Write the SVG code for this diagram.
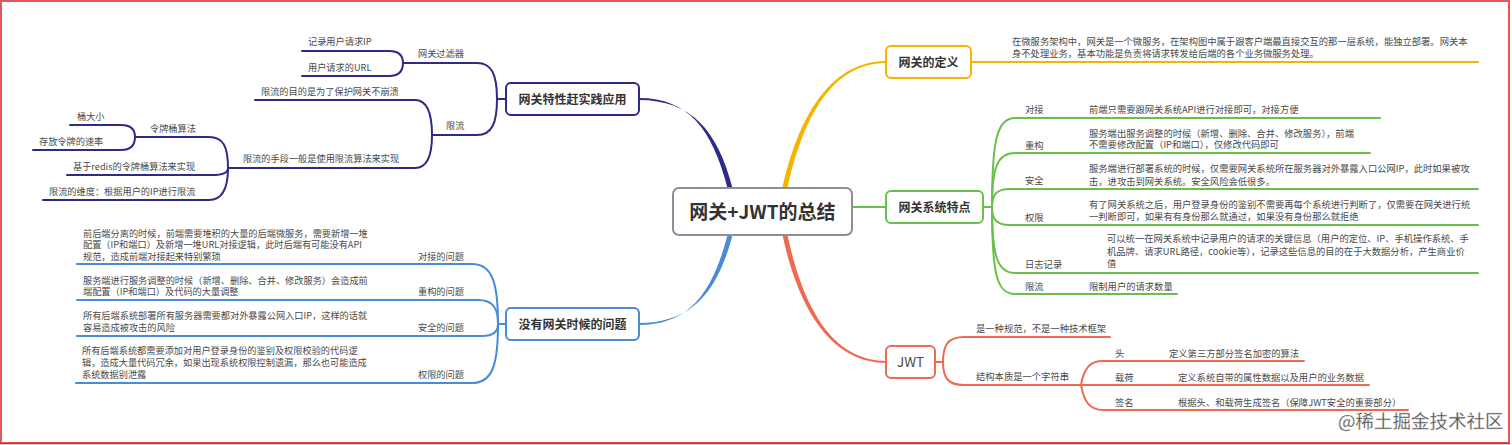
<svg xmlns="http://www.w3.org/2000/svg" width="1512" height="445" viewBox="0 0 1512 445">
<style>
text{font-family:"Noto Sans CJK SC","Microsoft YaHei",sans-serif;fill:#4a4a4a}
.r{font-size:9.3px}
.l{font-size:9.2px}
.b1{font-size:12px;font-weight:bold;fill:#333}
.root{font-size:19px;font-weight:bold;fill:#333}
.box{fill:#fff;stroke-width:2}
.ln{fill:none;stroke-width:2;stroke-linecap:round}
.pu{stroke:#2e2a85}.bl{stroke:#4a8bd6}.ye{stroke:#f5b400}.gr{stroke:#6abf4b}.co{stroke:#ee6a52}
</style>
<rect x="1" y="1" width="1508" height="442" fill="#fff" stroke="#e05a5a" stroke-width="2"/>
<line x1="0" y1="443.5" x2="1510" y2="443.5" stroke="#e82828" stroke-width="1.5"/>

<g id="connectors">
  <path d="M727.5 188 C712.5 130 689 98 639 98 L639 100 C691 100 717.5 130 732.5 188 Z" fill="#2e2a85"/>
  <path d="M727.5 235 C712.5 293 689 325 639 325 L639 323 C691 323 717.5 293 732.5 235 Z" fill="#4a8bd6"/>
  <path d="M782.5 188 C797.5 120 829 61 886 61 L886 63 C831 63 802.5 120 787.5 188 Z" fill="#f5b400"/>
  <path d="M782.5 235 C797.5 305 829 363 887 363 L887 361 C831 361 802.5 305 787.5 235 Z" fill="#ee6a52"/>
  <path class="ln gr" d="M852 207 L886 207" stroke-width="2.5"/>
  <!-- purple -->
  <path class="ln pu" d="M506 99 L497 99"/>
  <path class="ln pu" d="M497 99 C497 75 492 63 477 63 L403 63"/>
  <path class="ln pu" d="M497 99 C497 123 492 135 477 135 L432 135"/>
  <path class="ln pu" d="M403 63 C403 55 399 51 389 51 L302 51"/>
  <path class="ln pu" d="M403 63 C403 71 399 76 389 76 L302 76"/>
  <path class="ln pu" d="M432 135 C432 112 427 100 415 100 L255 100"/>
  <path class="ln pu" d="M432 135 C432 156 427 168 415 168 L228 168"/>
  <path class="ln pu" d="M228 168 C228 146 223 137 209 137 L135 137"/>
  <path class="ln pu" d="M228 168 C228 172 224 175 212 175 L67 175"/>
  <path class="ln pu" d="M228 168 C228 188 223 200 209 200 L43 200"/>
  <path class="ln pu" d="M135 137 C135 129 131 125 121 125 L70 125"/>
  <path class="ln pu" d="M135 137 C135 145 131 150 121 150 L33 150"/>
  <!-- blue -->
  <path class="ln bl" d="M506 324 L498 324"/>
  <path class="ln bl" d="M498 324 C498 282 492 264 472 264 L77 264"/>
  <path class="ln bl" d="M498 324 C498 308 493 300 478 300 L77 300"/>
  <path class="ln bl" d="M498 324 C498 331 494 336 482 336 L77 336"/>
  <path class="ln bl" d="M498 324 C498 366 492 383 472 383 L76 383"/>
  <!-- yellow -->
  <path class="ln ye" d="M971 62 L1478 62"/>
  <!-- green -->
  <path class="ln gr" d="M983 207 L992 207"/>
  <path class="ln gr" d="M992 207 C992 140 997 118 1015 118 L1380 118"/>
  <path class="ln gr" d="M992 207 C992 168 997 153 1015 153 L1370 153"/>
  <path class="ln gr" d="M992 207 C992 195 996 189 1010 189 L1478 189"/>
  <path class="ln gr" d="M992 207 C992 219 996 225 1010 225 L1478 225"/>
  <path class="ln gr" d="M992 207 C992 255 997 273 1015 273 L1478 273"/>
  <path class="ln gr" d="M992 207 C992 275 997 294 1015 294 L1177 294"/>
  <!-- coral -->
  <path class="ln co" d="M935 362 L943 362"/>
  <path class="ln co" d="M943 362 C943 345 948 337 964 337 L1110 337"/>
  <path class="ln co" d="M943 362 C943 378 948 385 964 385 L1369 385"/>
  <path class="ln co" d="M1081 385 C1084 368 1090 361 1103 361 L1304 361"/>
  <path class="ln co" d="M1081 385 C1084 402 1090 410 1103 410 L1408 410"/>
</g>

<g id="root">
  <rect class="box" x="673" y="188" width="179" height="47" rx="6" stroke="#8a8f9c"/>
  <text class="root" x="762.5" y="218.5" text-anchor="middle">网关+JWT的总结</text>
</g>

<g id="n-practice">
  <rect class="box" x="506" y="83" width="133" height="32" rx="5" stroke="#2e2a85"/>
  <text class="b1" x="572.5" y="103.5" text-anchor="middle">网关特性赶实践应用</text>
</g>
<g id="n-filter"><text class="l" x="418" y="56.5">网关过滤器</text></g>
<g id="n-ip"><text class="l" x="308" y="44.5">记录用户请求IP</text></g>
<g id="n-url"><text class="l" x="308" y="70.5">用户请求的URL</text></g>
<g id="n-limit"><text class="l" x="446" y="128.5">限流</text></g>
<g id="n-limit-goal"><text class="l" x="261" y="94.5">限流的目的是为了保护网关不崩溃</text></g>
<g id="n-limit-means"><text class="l" x="243" y="161.5">限流的手段一般是使用限流算法来实现</text></g>
<g id="n-bucket"><text class="l" x="150" y="131.5">令牌桶算法</text></g>
<g id="n-bucket-size"><text class="l" x="77" y="119.5">桶大小</text></g>
<g id="n-bucket-rate"><text class="l" x="39" y="144.5">存放令牌的速率</text></g>
<g id="n-redis"><text class="l" x="73" y="169.5">基于redis的令牌桶算法来实现</text></g>
<g id="n-dimension"><text class="l" x="49" y="194.5">限流的维度：根据用户的IP进行限流</text></g>

<g id="n-nogateway">
  <rect class="box" x="506" y="308" width="133" height="32" rx="5" stroke="#4a8bd6"/>
  <text class="b1" x="572.5" y="328.5" text-anchor="middle">没有网关时候的问题</text>
</g>
<g id="n-p-dock">
  <text class="l" x="418" y="259.5">对接的问题</text>
  <text class="l" x="83" y="236.5">前后端分离的时候，前端需要堆积的大量的后端微服务，需要新增一堆</text>
  <text class="l" x="83" y="247.5">配置（IP和端口）及新增一堆URL对接逻辑，此时后端有可能没有API</text>
  <text class="l" x="83" y="259.5">规范，造成前端对接起来特别繁琐</text>
</g>
<g id="n-p-refactor">
  <text class="l" x="418" y="294.5">重构的问题</text>
  <text class="l" x="83" y="283.5">服务端进行服务调整的时候（新增、删除、合并、修改服务）会造成前</text>
  <text class="l" x="83" y="294.5">端配置（IP和端口）及代码的大量调整</text>
</g>
<g id="n-p-security">
  <text class="l" x="418" y="330.5">安全的问题</text>
  <text class="l" x="83" y="318.5">所有后端系统部署所有服务器需要都对外暴露公网入口IP，这样的话就</text>
  <text class="l" x="83" y="330.5">容易造成被攻击的风险</text>
</g>
<g id="n-p-auth">
  <text class="l" x="418" y="377.5">权限的问题</text>
  <text class="l" x="82" y="353.5">所有后端系统都需要添加对用户登录身份的鉴别及权限校验的代码逻</text>
  <text class="l" x="82" y="365.5">辑，造成大量代码冗余，如果出现系统权限控制遗漏，那么也可能造成</text>
  <text class="l" x="82" y="377.5">系统数据别泄露</text>
</g>

<g id="n-definition">
  <rect class="box" x="886" y="46" width="85" height="32" rx="5" stroke="#f5b400"/>
  <text class="b1" x="928.5" y="66.5" text-anchor="middle">网关的定义</text>
</g>
<g id="n-def-text">
  <text class="r" x="1012" y="44.5">在微服务架构中，网关是一个微服务，在架构图中属于跟客户端最直接交互的那一层系统，能独立部署。网关本</text>
  <text class="r" x="1012" y="56.5">身不处理业务，基本功能是负责将请求转发给后端的各个业务微服务处理。</text>
</g>

<g id="n-features">
  <rect class="box" x="886" y="191" width="97" height="32" rx="5" stroke="#6abf4b"/>
  <text class="b1" x="934.5" y="211.5" text-anchor="middle">网关系统特点</text>
</g>
<g id="n-f-dock">
  <text class="r" x="1025" y="112.5">对接</text>
  <text class="r" x="1089" y="112.5">前端只需要跟网关系统API进行对接即可，对接方便</text>
</g>
<g id="n-f-refactor">
  <text class="r" x="1025" y="148.5">重构</text>
  <text class="r" x="1089" y="136.5">服务端出服务调整的时候（新增、删除、合并、修改服务），前端</text>
  <text class="r" x="1089" y="147.5">不需要修改配置（IP和端口），仅修改代码即可</text>
</g>
<g id="n-f-security">
  <text class="r" x="1025" y="183.5">安全</text>
  <text class="r" x="1089" y="171.5">服务端进行部署系统的时候，仅需要网关系统所在服务器对外暴露入口公网IP，此时如果被攻</text>
  <text class="r" x="1089" y="184.5">击，进攻击到网关系统。安全风险会低很多。</text>
</g>
<g id="n-f-auth">
  <text class="r" x="1025" y="220.5">权限</text>
  <text class="r" x="1089" y="207.5">有了网关系统之后，用户登录身份的鉴别不需要再每个系统进行判断了，仅需要在网关进行统</text>
  <text class="r" x="1089" y="219.5">一判断即可，如果有有身份那么就通过，如果没有身份那么就拒绝</text>
</g>
<g id="n-f-log">
  <text class="r" x="1025" y="267.5">日志记录</text>
  <text class="r" x="1107" y="241.5">可以统一在网关系统中记录用户的请求的关键信息（用户的定位、IP、手机操作系统、手</text>
  <text class="r" x="1107" y="254.5">机品牌、请求URL路径，cookie等），记录这些信息的目的在于大数据分析，产生商业价</text>
  <text class="r" x="1107" y="266.5">值</text>
</g>
<g id="n-f-limit">
  <text class="r" x="1025" y="289.5">限流</text>
  <text class="r" x="1089" y="289.5">限制用户的请求数量</text>
</g>

<g id="n-jwt">
  <rect class="box" x="886" y="346" width="49" height="32" rx="5" stroke="#ee6a52"/>
  <text x="910.5" y="367" text-anchor="middle" font-size="13.5" fill="#333">JWT</text>
</g>
<g id="n-j-spec"><text class="r" x="976" y="331.5">是一种规范，不是一种技术框架</text></g>
<g id="n-j-struct"><text class="r" x="976" y="379.5">结构本质是一个字符串</text></g>
<g id="n-j-head">
  <text class="r" x="1115" y="356.5">头</text>
  <text class="r" x="1169" y="356.5">定义第三方部分签名加密的算法</text>
</g>
<g id="n-j-payload">
  <text class="r" x="1115" y="380.5">载荷</text>
  <text class="r" x="1178" y="380.5">定义系统自带的属性数据以及用户的业务数据</text>
</g>
<g id="n-j-sign">
  <text class="r" x="1115" y="405.5">签名</text>
  <text class="r" x="1178" y="405.5">根据头、和载荷生成签名（保障JWT安全的重要部分）</text>
</g>

<text x="1338" y="428" font-size="18.5" fill="#c4c4c4" stroke="#e0e0e0" stroke-width="0.3">@稀土掘金技术社区</text>
</svg>
